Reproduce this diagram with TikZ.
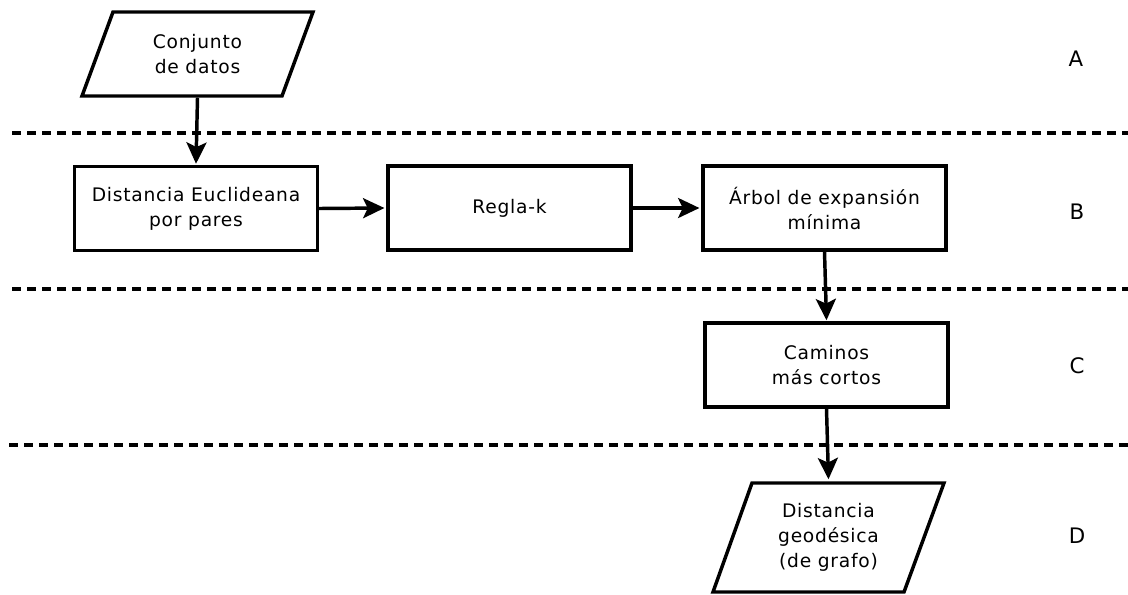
\documentclass[tikz,border=0pt]{standalone}
\usepackage{fontspec}
\setmainfont{DejaVu Sans}[LetterSpace=4]
\usetikzlibrary{arrows.meta}
\begin{document}
\begin{tikzpicture}[x=0.75pt,y=-0.75pt,
  line width=2.6pt,
  every node/.style={font=\fontsize{14}{18.75}\selectfont, align=center},
  procbox/.style={draw, rectangle, inner sep=0pt, minimum width=182pt, minimum height=63pt},
  iobox/.style={inner sep=0pt, minimum width=150pt},
  flow/.style={-{Stealth[length=16pt,width=15pt,inset=3.5pt]}},
  sep/.style={dash pattern=on 6.75pt off 4.5pt, line width=2.4pt},
  tier/.style={font=\fontsize{16}{18}\selectfont}]
\useasboundingbox (0,0) rectangle (1128,594);

% input data
\node[iobox, minimum height=63pt] (p1) at (197.5,54) {Conjunto\\de datos};
\draw[line join=miter] (113,12) -- (313,12) -- (282,96) -- (82,96) -- cycle;

% processing steps
\node[procbox] (b1) at (196,208.5) {Distancia Euclideana\\por pares};
\node[procbox] (b2) at (509.5,208) {Regla-k};
\node[procbox] (b3) at (824.5,208) {Árbol de expansión\\mínima};
\node[procbox] (b4) at (826.5,365) {Caminos\\más cortos};

% output
\node[iobox, minimum height=81.75pt] (p2) at (828.5,537.5) {Distancia\\geodésica\\(de grafo)};
\draw[line join=miter] (752,483) -- (944,483) -- (904,592) -- (713,592) -- cycle;

% stage separators
\draw[sep] (12,133) -- (1128,133);
\draw[sep] (12,289) -- (1128,289);
\draw[sep] (9,445) -- (1128,445);

% connectors
\draw[flow] (p1.south) -- ([yshift=0.75pt]b1.north);
\draw[flow] (b1.east) -- ([xshift=-1.5pt]b2.west);
\draw[flow] (b2.east) -- ([xshift=-1.5pt]b3.west);
\draw[flow] (b3.south) -- ([yshift=0.75pt]b4.north);
\draw[flow] (b4.south) -- ([yshift=1.5pt]p2.north);

% stage labels
\node[tier] (la) at (1076,59) {A};
\node[tier] (lb) at (1077,212) {B};
\node[tier] (lc) at (1077,366) {C};
\node[tier] (ld) at (1077,536) {D};
\end{tikzpicture}
\end{document}
